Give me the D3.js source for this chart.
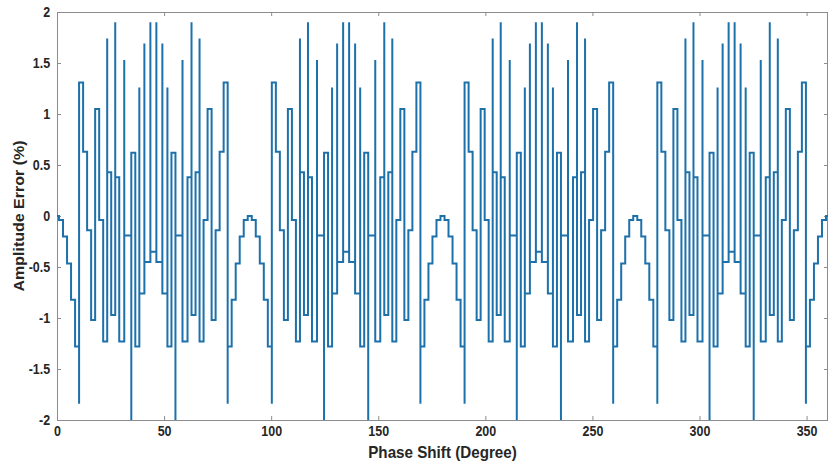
<!DOCTYPE html>
<html><head><meta charset="utf-8">
<script src="https://cdn.jsdelivr.net/npm/d3@7"></script>
<style>body{margin:0;background:#fff}svg{display:block}</style>
</head><body>
<svg id="c" width="831" height="467"></svg>
<script>
// ---- data ----
const xTicks = [0, 50, 100, 150, 200, 250, 300, 350];
const xTickLabels = ["0", "50", "100", "150", "200", "250", "300", "350"];
const yTicks = [-2, -1.5, -1, -0.5, 0, 0.5, 1, 1.5, 2];
const yTickLabels = ["-2", "-1.5", "-1", "-0.5", "0", "0.5", "1", "1.5", "2"];

// phase (degrees) where the amplitude error steps to a new level
const edges = [
  0.94, 2.81, 4.69, 6.56, 8.44, 10.31, 12.19, 14.06, 15.94, 17.81, 19.69, 21.56, 23.44, 25.31, 27.19, 29.06, 31.4, 34.69, 36.56, 38.44, 40.8, 43.6,
  46.4, 49.2, 51.56, 53.44, 55.31, 58.6, 60.94, 62.81, 64.69, 66.56, 68.44, 70.31, 72.19, 74.06, 75.94, 77.81, 79.69, 81.56, 83.44, 85.31, 87.19, 89.06,
  90.94, 92.81, 94.69, 96.56, 98.44, 100.31, 102.19, 104.06, 105.94, 107.81, 109.69, 111.56, 113.44, 115.31, 117.19, 119.06, 121.4, 124.69, 126.56, 128.44, 130.8, 133.6,
  136.4, 139.2, 141.56, 143.44, 145.31, 148.6, 150.94, 152.81, 154.69, 156.56, 158.44, 160.31, 162.19, 164.06, 165.94, 167.81, 169.69, 171.56, 173.44, 175.31, 177.19, 179.06,
  180.94, 182.81, 184.69, 186.56, 188.44, 190.31, 192.19, 194.06, 195.94, 197.81, 199.69, 201.56, 203.44, 205.31, 207.19, 209.06, 211.4, 214.69, 216.56, 218.44, 220.8, 223.6,
  226.4, 229.2, 231.56, 233.44, 235.31, 238.6, 240.94, 242.81, 244.69, 246.56, 248.44, 250.31, 252.19, 254.06, 255.94, 257.81, 259.69, 261.56, 263.44, 265.31, 267.19, 269.06,
  270.94, 272.81, 274.69, 276.56, 278.44, 280.31, 282.19, 284.06, 285.94, 287.81, 289.69, 291.56, 293.44, 295.31, 297.19, 299.06, 301.4, 304.69, 306.56, 308.44, 310.8, 313.6,
  316.4, 319.2, 321.56, 323.44, 325.31, 328.6, 330.94, 332.81, 334.69, 336.56, 338.44, 340.31, 342.19, 344.06, 345.94, 347.81, 349.69, 351.56, 353.44, 355.31, 357.19, 359.06
];

// amplitude error (%) held on each step (one more value than edges)
const levels = [
  0, -0.04, -0.2, -0.465, -0.82, -1.28, 1.31, 0.63, -0.14, -1.02, 1.05, -0.04, -1.23, 0.43, -0.97, 0.38, -1.23, -0.19, 0.62, -1.28, -0.76, -0.45,
  -0.35, -0.45, -0.76, -1.28, 0.62, -0.19, -1.23, 0.38, -0.97, 0.43, -1.23, -0.04, 1.05, -1.02, -0.14, 0.63, 1.31, -1.28, -0.82, -0.465, -0.2, -0.04,
  0, -0.04, -0.2, -0.465, -0.82, -1.28, 1.31, 0.63, -0.14, -1.02, 1.05, -0.04, -1.23, 0.43, -0.97, 0.38, -1.23, -0.19, 0.62, -1.28, -0.76, -0.45,
  -0.35, -0.45, -0.76, -1.28, 0.62, -0.19, -1.23, 0.38, -0.97, 0.43, -1.23, -0.04, 1.05, -1.02, -0.14, 0.63, 1.31, -1.28, -0.82, -0.465, -0.2, -0.04,
  0, -0.04, -0.2, -0.465, -0.82, -1.28, 1.31, 0.63, -0.14, -1.02, 1.05, -0.04, -1.23, 0.43, -0.97, 0.38, -1.23, -0.19, 0.62, -1.28, -0.76, -0.45,
  -0.35, -0.45, -0.76, -1.28, 0.62, -0.19, -1.23, 0.38, -0.97, 0.43, -1.23, -0.04, 1.05, -1.02, -0.14, 0.63, 1.31, -1.28, -0.82, -0.465, -0.2, -0.04,
  0, -0.04, -0.2, -0.465, -0.82, -1.28, 1.31, 0.63, -0.14, -1.02, 1.05, -0.04, -1.23, 0.43, -0.97, 0.38, -1.23, -0.19, 0.62, -1.28, -0.76, -0.45,
  -0.35, -0.45, -0.76, -1.28, 0.62, -0.19, -1.23, 0.38, -0.97, 0.43, -1.23, -0.04, 1.05, -1.02, -0.14, 0.63, 1.31, -1.28, -0.82, -0.465, -0.2, -0.04,
  0
];

// glitch spikes at some of the switching points
const spikeAt = [
  10.31, 23.44, 27.19, 31.4, 34.69, 38.44, 40.8, 43.6, 46.4, 49.2, 51.56, 55.31, 58.6, 62.81, 66.56, 79.69,
  100.31, 113.44, 117.19, 121.4, 124.69, 128.44, 130.8, 133.6, 136.4, 139.2, 141.56, 145.31, 148.6, 152.81, 156.56, 169.69,
  190.31, 203.44, 207.19, 211.4, 214.69, 218.44, 220.8, 223.6, 226.4, 229.2, 231.56, 235.31, 238.6, 242.81, 246.56, 259.69,
  280.31, 293.44, 297.19, 301.4, 304.69, 308.44, 310.8, 313.6, 316.4, 319.2, 321.56, 325.31, 328.6, 332.81, 336.56, 349.69
];
const spikeVal = [
  -1.84, 1.74, 1.9, 1.53, -2, 1.26, 1.69, 1.9, 1.9, 1.69, 1.26, -2, 1.53, 1.9, 1.74, -1.84,
  -1.84, 1.74, 1.9, 1.53, -2, 1.26, 1.69, 1.9, 1.9, 1.69, 1.26, -2, 1.53, 1.9, 1.74, -1.84,
  -1.84, 1.74, 1.9, 1.53, -2, 1.26, 1.69, 1.9, 1.9, 1.69, 1.26, -2, 1.53, 1.9, 1.74, -1.84,
  -1.84, 1.74, 1.9, 1.53, -2, 1.26, 1.69, 1.9, 1.9, 1.69, 1.26, -2, 1.53, 1.9, 1.74, -1.84
];

// ---- drawing ----
const L = 57, R = 828, T = 12, B = 420;
const svg = d3.select("#c");
const x = d3.scaleLinear().domain([0, 360]).range([L, R]);
const y = d3.scaleLinear().domain([-2, 2]).range([B, T]);

const spikeMap = new Map(spikeAt.map((s, i) => [s, spikeVal[i]]));
const pts = [[0, levels[0]]];
edges.forEach((e, i) => {
  pts.push([e, levels[i]]);
  if (spikeMap.has(e)) pts.push([e, spikeMap.get(e)]);
  pts.push([e, levels[i + 1]]);
});
pts.push([360, levels[levels.length - 1]]);

svg.append("defs").append("clipPath").attr("id", "clip")
  .append("rect").attr("x", L).attr("y", T - 1).attr("width", R - L).attr("height", B - T + 2);

const font = "'Liberation Sans', Arial, sans-serif";
const axisCol = "#8c8c8c";

function styleAxis(g) {
  g.select(".domain").remove();
  g.selectAll(".tick line").attr("stroke", axisCol).attr("stroke-width", 1);
  g.selectAll(".tick text").attr("fill", "#262626").attr("font-family", font)
    .attr("font-size", 14.5).attr("font-weight", "bold")
    .attr("transform", "scale(0.86,1)");
}

svg.append("g").attr("transform", `translate(0,${B})`)
  .call(d3.axisBottom(x).tickValues(xTicks).tickFormat((d, i) => xTickLabels[i]).tickSize(-4).tickPadding(6))
  .call(styleAxis);
svg.append("g").attr("transform", `translate(0,${T})`)
  .call(d3.axisTop(x).tickValues(xTicks).tickFormat("").tickSize(-4))
  .call(styleAxis);
svg.append("g").attr("transform", `translate(${L},0)`)
  .call(d3.axisLeft(y).tickValues(yTicks).tickFormat((d, i) => yTickLabels[i]).tickSize(-4).tickPadding(8))
  .call(styleAxis);
svg.append("g").attr("transform", `translate(${R},0)`)
  .call(d3.axisRight(y).tickValues(yTicks).tickFormat("").tickSize(-4))
  .call(styleAxis);

svg.append("rect").attr("x", L + 0.5).attr("y", T + 0.5).attr("width", R - L - 1).attr("height", B - T)
  .attr("fill", "none").attr("stroke", axisCol).attr("stroke-width", 1);

const line = d3.line().x(d => x(d[0])).y(d => y(d[1]));
svg.append("path").datum(pts).attr("d", line)
  .attr("clip-path", "url(#clip)")
  .attr("fill", "none").attr("stroke", "#1d71ab").attr("stroke-width", 2)
  .attr("stroke-linejoin", "miter").attr("stroke-linecap", "butt");

svg.append("text").attr("transform", `translate(${(L + R) / 2},458) scale(0.95,1)`).attr("text-anchor", "middle")
  .attr("font-family", font).attr("font-size", 16).attr("font-weight", "bold").attr("fill", "#262626")
  .text("Phase Shift (Degree)");
svg.append("text").attr("transform", `translate(24,${(T + B) / 2}) rotate(-90) scale(1,0.95)`).attr("text-anchor", "middle")
  .attr("font-family", font).attr("font-size", 16).attr("font-weight", "bold").attr("fill", "#262626")
  .text("Amplitude Error (%)");
</script>
</body></html>
